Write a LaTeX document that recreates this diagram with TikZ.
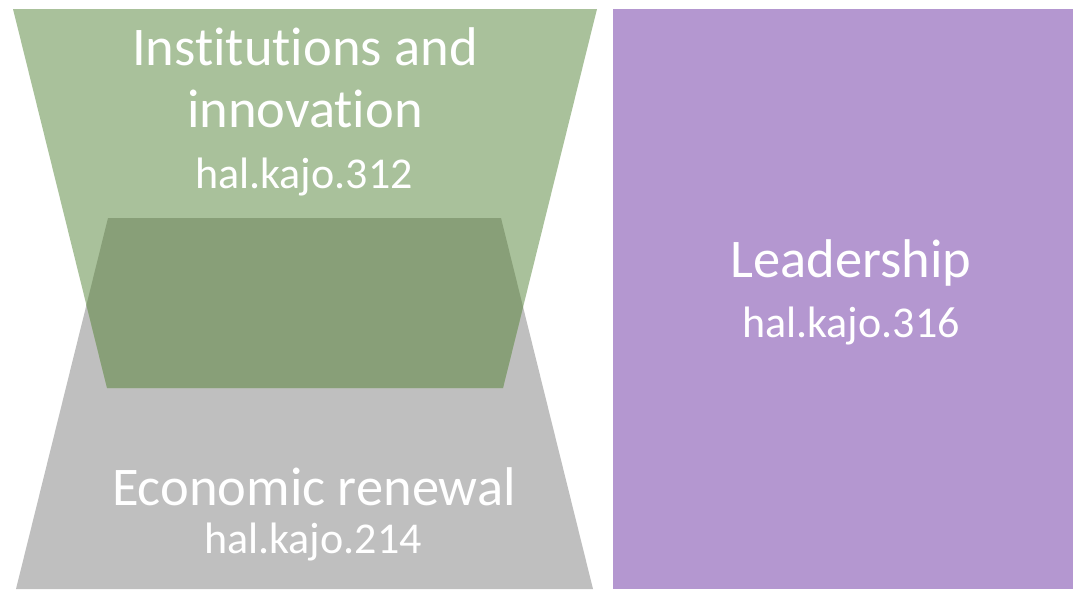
\documentclass[tikz,border=0pt]{standalone}
\usepackage{fontspec}
\setmainfont[Ligatures={NoCommon}]{Carlito}
\definecolor{lgreen}{RGB}{169,193,155}
\definecolor{dgreen}{RGB}{136,159,120}
\definecolor{lgray}{RGB}{191,191,191}
\definecolor{lpurple}{RGB}{180,151,208}
\begin{document}
\begin{tikzpicture}[x=1pt,y=-1pt,
  big/.style={text=white,anchor=base,inner sep=0pt,font=\fontsize{54.5}{60}\selectfont},
  small/.style={text=white,anchor=base,inner sep=0pt,font=\fontsize{44}{50}\selectfont}]
\useasboundingbox (0,0) rectangle (1073,589);
% gray trapezoid
\fill[lgray] (108,218) -- (501,218) -- (593,589) -- (16,589) -- cycle;
% green inverted trapezoid
\fill[lgreen] (13,9) -- (597,9) -- (503,388) -- (107,388) -- cycle;
% overlap
\begin{scope}
\clip (108,218) -- (501,218) -- (593,589) -- (16,589) -- cycle;
\fill[dgreen] (13,9) -- (597,9) -- (503,388) -- (107,388) -- cycle;
\end{scope}
% purple rectangle
\fill[lpurple] (613,9) rectangle (1073,589);
% texts
\node[big] (t1) at (305,65) {Institutions and};
\node[big] (t2) at (305,127) {innovation};
\node[small] (t3) at (304,188) {hal.kajo.312};
\node[big] (l1) at (851,277) {Leadership};
\node[small] (l2) at (851,337) {hal.kajo.316};
\node[big] (e1) at (314,505) {Economic renewal};
\node[small] (e2) at (313,553) {hal.kajo.214};
\end{tikzpicture}
\end{document}
